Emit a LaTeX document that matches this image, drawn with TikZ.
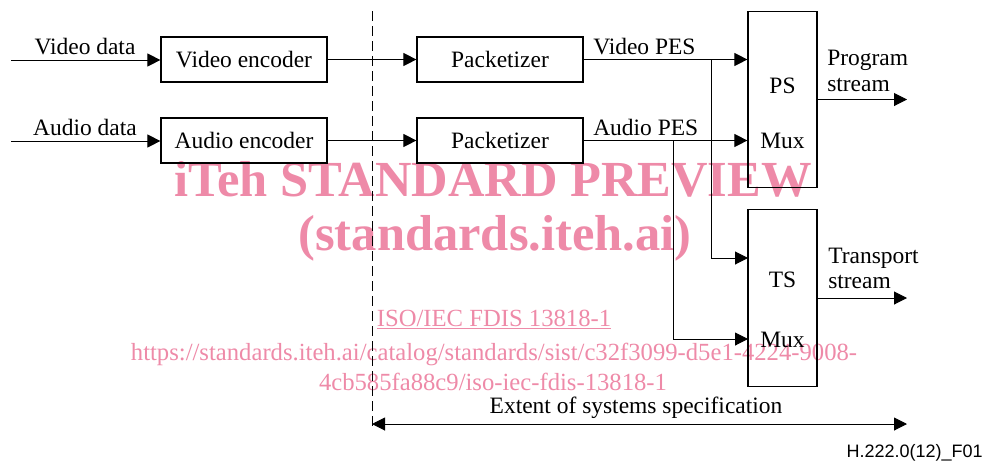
\documentclass[tikz,border=0pt]{standalone}
\usepackage{fontspec}
\setmainfont{Liberation Serif}
\newfontfamily\tagsans{Liberation Sans}
\usetikzlibrary{arrows.meta}
\definecolor{wmpink}{RGB}{238,138,168}
\begin{document}
\begin{tikzpicture}[x=0.75pt,y=-0.75pt,
  txt/.style={font=\fontsize{17.6}{21}\selectfont, inner sep=0pt},
  procbox/.style={draw, line width=0.9pt, minimum width=124.5pt, minimum height=33.75pt,
    inner sep=0pt, font=\fontsize{17.6}{21}\selectfont},
  muxbox/.style={draw, line width=0.9pt, minimum width=51.75pt, minimum height=132.5pt, inner sep=0pt},
  wire/.style={line width=0.75pt},
  tip/.tip={Triangle[length=9.75pt,width=9.75pt]},
  arr/.style={wire, -tip},
  wmbig/.style={text=wmpink, inner sep=0pt, font=\fontsize{37.9}{40}\selectfont\bfseries},
  wmsmall/.style={text=wmpink, inner sep=0pt, font=\fontsize{18.5}{22}\selectfont},
]
\useasboundingbox (0,0) rectangle (987,461);

% watermark text, behind the diagram
\node[wmbig, anchor=base] (wm1) at (493,196) {iTeh STANDARD PREVIEW};
\node[wmbig, anchor=base] (wm2) at (495,250) {(standards.iteh.ai)};
\node[wmsmall, anchor=base] (wm3) at (494,326) {\underline{ISO/IEC FDIS 13818-1}};
\node[wmsmall, anchor=base] (wm4) at (494,360) {https://standards.iteh.ai/catalog/standards/sist/c32f3099-d5e1-4224-9008-};
\node[wmsmall, anchor=base] (wm5) at (493,390) {4cb585fa88c9/iso-iec-fdis-13818-1};

% boundary of the systems specification
\coordinate (dtop) at (372,11);
\coordinate (dbot) at (372,430);
\draw[wire, dash pattern=on 7.5pt off 3.75pt] (dtop) -- (dbot);

% processing blocks
\node[procbox] (venc) at (244,59.5) {Video encoder};
\node[procbox] (aenc) at (244,140.5) {Audio encoder};
\node[procbox] (pv) at (500,59.5) {Packetizer};
\node[procbox] (pa) at (500,140.5) {Packetizer};
\node[muxbox] (ps) at (782.5,99.5) {};
\node[muxbox] (ts) at (782.5,298) {};
\node[txt, anchor=base] (pslbl) at (782.5,93) {PS};
\node[txt, anchor=base] (psmux) at (782.5,148) {Mux};
\node[txt, anchor=base] (tslbl) at (782.5,287) {TS};
\node[txt, anchor=base] (tsmux) at (782.5,347) {Mux};

% inputs
\coordinate (vin) at (11,60);
\coordinate (ain) at (11,141);
\draw[arr] (vin) -- (vin -| venc.west);
\draw[arr] (ain) -- (ain -| aenc.west);
\node[txt, anchor=base] (vdl) at (85,54) {Video data};
\node[txt, anchor=base] (adl) at (85,135) {Audio data};

% encoders to packetizers
\draw[arr] (venc.east) -- (pv.west);
\draw[arr] (aenc.east) -- (pa.west);

% elementary streams into the multiplexers
\draw[arr] (pv.east) -- (pv.east -| ps.west);
\draw[arr] (pa.east) -- (pa.east -| ps.west);
\node[txt, anchor=base west] (vpes) at (593,54) {Video PES};
\node[txt, anchor=base west] (apes) at (593,135) {Audio PES};
\coordinate (vbr) at (711,60);
\coordinate (abr) at (673,141);
\coordinate (tsin1) at (748,258);
\coordinate (tsin2) at (748,339);
\draw[arr] (vbr) |- (tsin1);
\draw[arr] (abr) |- (tsin2);

% outputs
\coordinate (psout) at (907,99.5);
\coordinate (tsout) at (907,298);
\draw[arr] (ps.east) -- (psout);
\draw[arr] (ts.east) -- (tsout);
\node[txt, anchor=base west] (pst1) at (827,65) {Program};
\node[txt, anchor=base west] (pst2) at (827,91) {stream};
\node[txt, anchor=base west] (tst1) at (828,263) {Transport};
\node[txt, anchor=base west] (tst2) at (828,288) {stream};

% extent of the specification
\coordinate (exl) at (372,424);
\coordinate (exr) at (907,424);
\draw[wire, tip-tip] (exl) -- (exr);
\node[txt, anchor=base] (ext) at (636,413) {Extent of systems specification};

% figure tag
\node[inner sep=0pt, anchor=base east, font=\tagsans\fontsize{13.5}{16}\selectfont] (tag) at (983,457) {H.222.0(12)\_F01};
\end{tikzpicture}
\end{document}
